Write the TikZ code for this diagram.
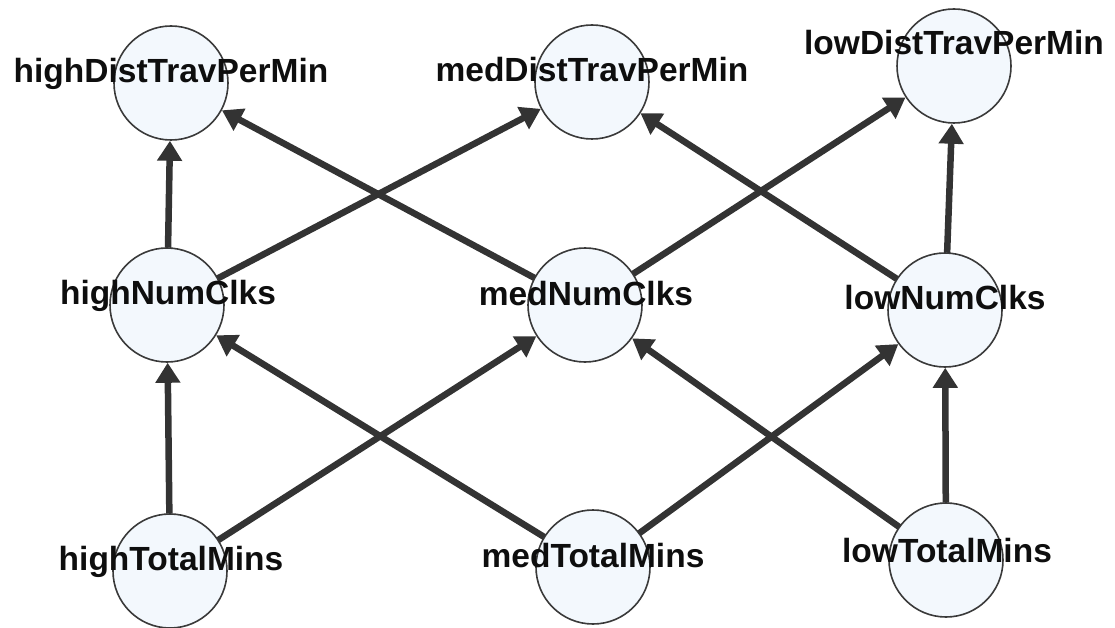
\documentclass[tikz,border=0pt]{standalone}
\usepackage{fontspec}
\setmainfont{Liberation Sans}
\usetikzlibrary{arrows.meta}
\definecolor{nodefill}{HTML}{F3F8FD}
\definecolor{edgegray}{HTML}{333333}
\definecolor{ringgray}{HTML}{3A3A3A}
\definecolor{labelink}{HTML}{0E0E0E}
\tikzset{
  var/.style={circle, draw=ringgray, line width=1.6pt, fill=nodefill,
              minimum size=114pt, inner sep=0pt},
  varname/.style={anchor=base, inner sep=0pt, text=labelink,
                  font=\fontsize{33.5}{40}\selectfont\bfseries},
  link/.style={draw=edgegray, line width=6.5pt,
               -{Triangle[length=20pt, width=24pt]}, shorten <=-0.5pt}
}
\begin{document}
\begin{tikzpicture}[x=1pt, y=-1pt]
  \useasboundingbox (0,0) rectangle (1115,628);

  % variables, one circle each
  \node[var] (hDT) at (171,83)  {};
  \node[var] (mDT) at (592,82)  {};
  \node[var] (lDT) at (954,66)  {};
  \node[var] (hNC) at (167,305) {};
  \node[var] (mNC) at (585,305) {};
  \node[var] (lNC) at (945,310) {};
  \node[var] (hTM) at (170,571) {};
  \node[var] (mTM) at (593,567) {};
  \node[var] (lTM) at (946,560) {};

  % dependencies
  \draw[link] (hNC) -- (hDT);
  \draw[link] (mNC) -- (hDT);
  \draw[link] (hNC) -- (mDT);
  \draw[link] (lNC) -- (mDT);
  \draw[link] (mNC) -- (lDT);
  \draw[link] (lNC) -- (lDT);
  \draw[link] (hTM) -- (hNC);
  \draw[link] (mTM) -- (hNC);
  \draw[link] (hTM) -- (mNC);
  \draw[link] (lTM) -- (mNC);
  \draw[link] (mTM) -- (lNC);
  \draw[link] (lTM) -- (lNC);

  % names written over the circles
  \node[varname] (hDT-name) at (171,83)  {highDistTravPerMin};
  \node[varname] (mDT-name) at (592,82)  {medDistTravPerMin};
  \node[varname] (lDT-name) at (954,55)  {lowDistTravPerMin};
  \node[varname] (hNC-name) at (168,304) {highNumClks};
  \node[varname] (mNC-name) at (586,305) {medNumClks};
  \node[varname] (lNC-name) at (945,309) {lowNumClks};
  \node[varname] (hTM-name) at (171,570) {highTotalMins};
  \node[varname] (mTM-name) at (593,567) {medTotalMins};
  \node[varname] (lTM-name) at (947,562) {lowTotalMins};
\end{tikzpicture}
\end{document}
